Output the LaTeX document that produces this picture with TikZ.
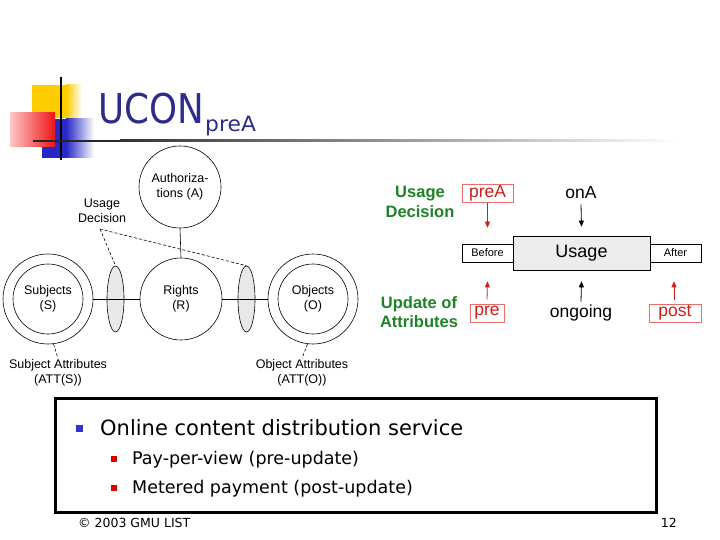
\documentclass[tikz,border=0pt]{standalone}
\usepackage{fontspec}
\setmainfont{DejaVu Sans}
\newfontfamily\arial{Liberation Sans}
\usetikzlibrary{arrows.meta,shapes.geometric}
\definecolor{navy}{RGB}{44,44,140}
\definecolor{logoyellow}{RGB}{255,204,0}
\definecolor{logoblue}{RGB}{40,40,200}
\definecolor{logored}{RGB}{238,20,20}
\definecolor{dgreen}{RGB}{30,130,40}
\definecolor{dred}{RGB}{205,30,30}
\definecolor{lred}{RGB}{232,110,110}
\definecolor{bblue}{RGB}{51,51,204}
\definecolor{bred}{RGB}{220,0,0}
\begin{document}
\begin{tikzpicture}[x=1pt,y=-1pt,
  circ/.style={circle, draw, line width=0.6pt, minimum size=82pt, inner sep=0pt, align=center, font=\arial\fontsize{12.5}{15}\selectfont},
  ring/.style={circle, draw, line width=0.6pt, minimum size=90pt, inner sep=0pt},
  lens/.style={ellipse, draw, line width=0.6pt, fill=gray!18, minimum width=17pt, minimum height=66pt, inner sep=0pt},
  lbl/.style={align=center, inner sep=1pt, font=\arial\fontsize{12.5}{15}\selectfont},
  conn/.style={line width=0.6pt},
  dconn/.style={line width=0.6pt, dash pattern=on 3pt off 2pt},
  gtext/.style={align=center, inner sep=0pt, text=dgreen, font=\arial\bfseries\fontsize{16.5}{19.5}\selectfont},
  rbox/.style={draw=lred, line width=0.8pt, text=dred, inner sep=0pt, font=\arial\fontsize{17.5}{18}\selectfont},
  plain/.style={inner sep=0pt, font=\arial\fontsize{17.5}{18}\selectfont},
  smallbox/.style={draw, line width=0.6pt, minimum width=51pt, minimum height=18pt, inner sep=0pt, font=\arial\fontsize{11}{12}\selectfont},
  rarrow/.style={line width=0.8pt, draw=dred, -{Triangle[length=6pt,width=5pt]}},
  karrow/.style={line width=0.8pt, -{Triangle[length=6pt,width=5pt]}}
]
\useasboundingbox (0,0) rectangle (720,540);
\fill[white] (0,0) rectangle (720,540);

% logo
\fill[logoyellow] (32,85) rectangle (66,118);
\shade[left color=logoyellow, right color=white] (66,85) rectangle (82,118);
\fill[logoblue] (42,119) rectangle (66,158);
\shade[left color=logoblue, right color=white] (66,119) rectangle (94,158);
\shade[left color=red!22, right color=logored] (10,113) rectangle (55,147);
\fill[black] (60,77) rectangle (62,160);
\fill[black!85] (33,140) rectangle (120,142);
\shade[left color=black!80, right color=white] (120,140) rectangle (680,142);

% title
\node[anchor=base west, inner sep=0pt, text=navy, font=\fontsize{41}{41}\selectfont] (title) at (98,124) {\scalebox{0.87}[1]{UCON}};
\node[anchor=base west, inner sep=0pt, text=navy, font=\fontsize{21}{21}\selectfont] (sub) at (205,132) {\scalebox{1.04}[1]{preA}};

% left diagram
\node[lens] (E1) at (115.5,299) {};
\node[lens] (E2) at (246.5,299) {};
\node[circ] (A) at (180,187) {Authoriza-\\tions (A)};
\node[circ] (R) at (181,299) {Rights\\(R)};
\node[ring] (Sout) at (48,299) {};
\node[circ, minimum size=70pt] (S) at (48,299) {Subjects\\(S)};
\node[ring] (Oout) at (313,299) {};
\node[circ, minimum size=70pt] (O) at (313,299) {Objects\\(O)};
\draw[conn] (Sout.east) -- (R.west);
\draw[conn] (R.east) -- (Oout.west);
\draw[conn] (A.south) -- (R.north);
\node[lbl] (UD) at (102,211) {Usage\\Decision};
\coordinate (udp) at (100,229);
\draw[dconn] (udp) -- (E1.north);
\draw[dconn] (udp) -- (E2.north);
\node[lbl] (SA) at (58,373) {Subject Attributes\\(ATT(S))};
\node[lbl] (OA) at (302,373) {Object Attributes\\(ATT(O))};
\draw[dconn] (Sout.-83) -- (SA.north);
\draw[dconn] (Oout.-97) -- (OA.north);

% right diagram
\node[gtext] (UDr) at (420,202) {Usage\\Decision};
\node[gtext] (UA) at (419,312) {Update of\\Attributes};
\node[rbox, minimum width=51pt, minimum height=18pt] (preA) at (487.5,193) {preA};
\node[plain] (onA) at (581,193) {onA};
\node[draw, line width=0.6pt, fill=gray!15, minimum width=137pt, minimum height=34pt, inner sep=0pt, font=\arial\fontsize{18}{18}\selectfont] (usage) at (581.5,253) {Usage};
\node[smallbox] (before) at (487.5,253) {Before};
\node[smallbox] (after) at (675.5,253) {After};
\node[rbox, minimum width=34pt, minimum height=18pt] (pre) at (487,313) {pre};
\node[plain] (ongoing) at (581,313) {ongoing};
\node[rbox, minimum width=52pt, minimum height=18pt] (post) at (675,313) {post};
\draw[rarrow] ([yshift=-1pt]preA.south) -- ([yshift=16pt]before.north);
\draw[karrow] ([yshift=-5pt]onA.south) -- ([yshift=9pt]usage.north);
\draw[rarrow] ([yshift=4pt]pre.north) -- ([yshift=-19pt]before.south);
\draw[karrow] ([yshift=3pt]ongoing.north) -- ([yshift=-11pt]usage.south);
\draw[rarrow] ([xshift=-1pt,yshift=4pt]post.north) -- ([xshift=-1.5pt,yshift=-19pt]after.south);

% bottom box
\node[draw, line width=3pt, minimum width=601pt, minimum height=114pt, inner sep=0pt, anchor=north west] (frame) at (54,397) {};
\node[fill=bblue, minimum size=7pt, inner sep=0pt] (b1) at (79,428) {};
\node[anchor=base west, inner sep=0pt, font=\fontsize{21}{25}\selectfont] (l1) at (100,435) {Online content distribution service};
\node[fill=bred, minimum size=5.5pt, inner sep=0pt] (b2) at (114,459) {};
\node[anchor=base west, inner sep=0pt, font=\fontsize{17.5}{20}\selectfont] (l2) at (132,464) {Pay-per-view (pre-update)};
\node[fill=bred, minimum size=5.5pt, inner sep=0pt] (b3) at (114,488) {};
\node[anchor=base west, inner sep=0pt, font=\fontsize{17.5}{20}\selectfont] (l3) at (132,493) {Metered payment (post-update)};
\node[anchor=base west, inner sep=0pt, font=\fontsize{12.5}{14}\selectfont] (copy) at (78,527) {© 2003 GMU LIST};
\node[anchor=base east, inner sep=0pt, font=\fontsize{12.5}{14}\selectfont] (pg) at (677,527) {12};
\end{tikzpicture}
\end{document}
